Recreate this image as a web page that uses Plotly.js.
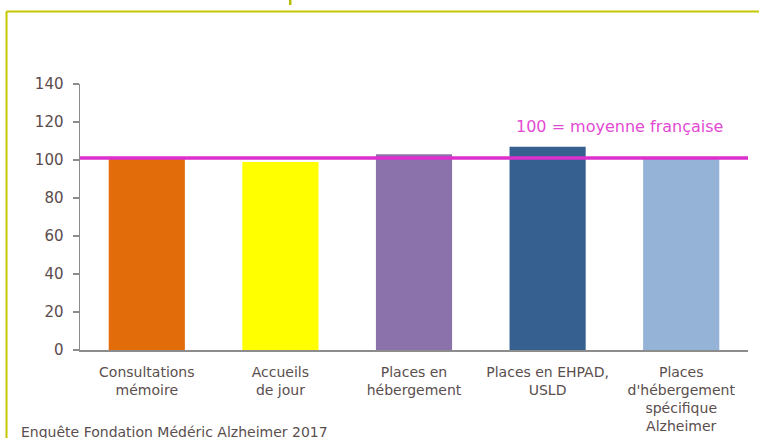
<!DOCTYPE html>
<html>
<head>
<meta charset="utf-8">
<script src="https://cdn.plot.ly/plotly-3.0.1.min.js"></script>
<style>
html,body{margin:0;padding:0;background:#fff;}
#chart{width:759px;height:438px;}
</style>
</head>
<body>
<div id="chart"></div>
<script>
const categories = [
  "Consultations<br>mémoire",
  "Accueils<br>de jour",
  "Places en<br>hébergement",
  "Places en EHPAD,<br>USLD",
  "Places<br>d'hébergement<br>spécifique<br>Alzheimer"
];
const values = [101, 99, 103, 107, 101];
const barColors = ["#e36c0a", "#ffff00", "#8b72aa", "#36608f", "#95b3d7"];
const referenceValue = [101];
const referenceLabel = "100 = moyenne française";
const sourceText = "Enquête Fondation Médéric Alzheimer 2017";
const yTicks = [0, 20, 40, 60, 80, 100, 120, 140];

const trace = {
  type: "bar",
  x: categories,
  y: values,
  marker: {color: barColors, line: {width: 0}},
  hoverinfo: "none"
};

const labelFont = {family: "DejaVu Sans", size: 14, color: "#5a4e4e"};
const frameColor = "#c4c800";

const layout = {
  width: 759,
  height: 438,
  margin: {l: 80, r: 11, t: 84, b: 88, pad: 0},
  paper_bgcolor: "#ffffff",
  plot_bgcolor: "#ffffff",
  showlegend: false,
  bargap: 0.43,
  xaxis: {
    type: "category",
    showgrid: false,
    zeroline: false,
    showline: true,
    linecolor: "#8c8c8c",
    linewidth: 2,
    ticks: "",
    tickfont: labelFont,
    ticklabelstandoff: 8,
    fixedrange: true
  },
  yaxis: {
    range: [0, 140],
    tickvals: yTicks,
    ticktext: yTicks.map(String),
    showgrid: false,
    zeroline: false,
    showline: true,
    linecolor: "#8c8c8c",
    linewidth: 1.5,
    ticks: "outside",
    ticklen: 6,
    tickwidth: 1.5,
    tickcolor: "#8c8c8c",
    ticklabelstandoff: 6,
    tickfont: {family: "DejaVu Sans", size: 15, color: "#5b4b4b"},
    fixedrange: true
  },
  shapes: [
    {type: "line", xref: "paper", yref: "y", x0: 0, x1: 1,
     y0: referenceValue[0], y1: referenceValue[0],
     line: {color: "#dd2fcd", width: 3.5}},
    {type: "line", xref: "paper", yref: "paper", x0: -0.110, x1: 1.1, y0: 1.2726, y1: 1.2726,
     line: {color: frameColor, width: 2}},
    {type: "line", xref: "paper", yref: "paper", x0: -0.110, x1: -0.110, y0: 1.2726, y1: -0.5,
     line: {color: frameColor, width: 2}},
    {type: "rect", xref: "paper", yref: "paper", x0: 0.3129, x1: 0.3166, y0: 1.297, y1: 1.32,
     fillcolor: "#b8bc00", line: {width: 0}}
  ],
  annotations: [
    {text: referenceLabel, xref: "paper", yref: "paper", x: 0.807, y: 0.842,
     xanchor: "center", yanchor: "middle", showarrow: false,
     font: {family: "DejaVu Sans", size: 16, color: "#e34ad3"}},
    {text: sourceText, xref: "paper", yref: "paper", x: -0.092, y: -0.272,
     xanchor: "left", yanchor: "top", showarrow: false,
     font: {family: "DejaVu Sans", size: 14, color: "#5a4e4e"}}
  ]
};

Plotly.newPlot("chart", [trace], layout, {displayModeBar: false, staticPlot: true});
</script>
</body>
</html>
